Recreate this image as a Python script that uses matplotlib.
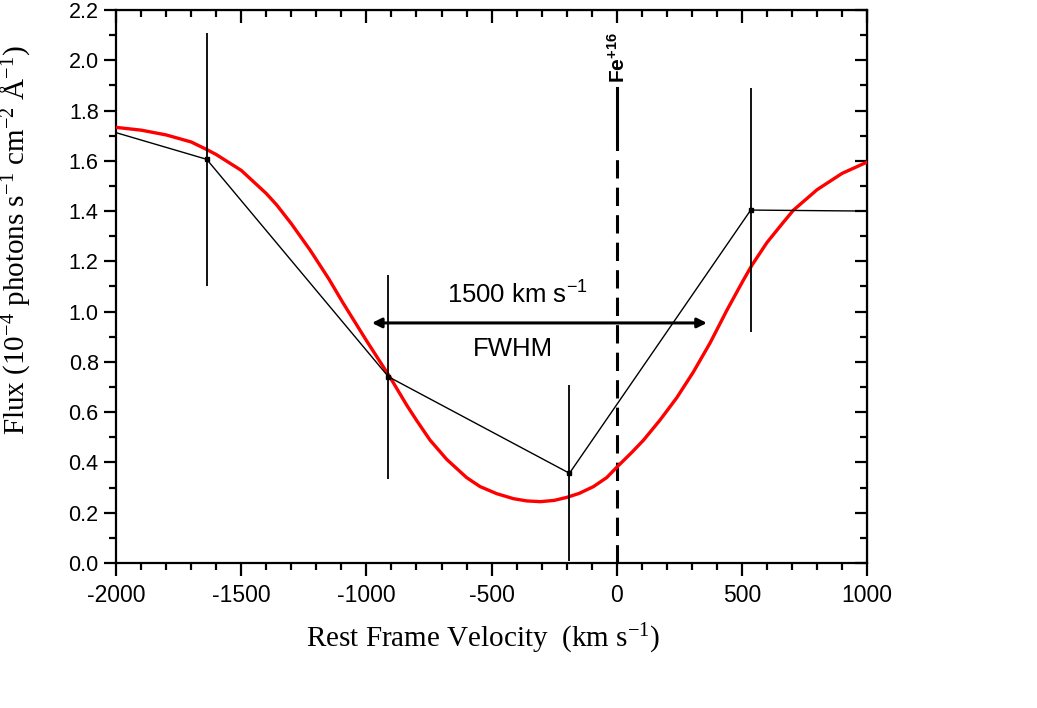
import matplotlib
matplotlib.use('Agg')
import matplotlib.pyplot as plt
from matplotlib.ticker import MultipleLocator

plt.rcParams['mathtext.default'] = 'regular'
plt.rcParams['axes.unicode_minus'] = False

# Messpunkte (schwarz) mit Fehlerbalken
vel = [-2000, -1638, -912, -189, 535, 1000]
flux = [1.712, 1.606, 0.741, 0.357, 1.404, 1.400]
err_vel = [-1638, -912, -189, 535]
err_flux = [1.606, 0.741, 0.357, 1.404]
err = [0.503, 0.406, 0.350, 0.487]

# Modellkurve (rot)
fit_vel = [-2000, -1900, -1800, -1700, -1638, -1600, -1500, -1400, -1358, -1300,
           -1225, -1150, -1093, -1000, -905, -839, -800, -746, -679, -600,
           -546, -480, -413, -360, -306, -250, -200, -150, -93, -40,
           7, 60, 107, 173, 240, 306, 373, 440, 506, 540,
           600, 665, 706, 800, 900, 1000]
fit_flux = [1.733, 1.722, 1.703, 1.675, 1.645, 1.625, 1.562, 1.470, 1.424, 1.350,
            1.245, 1.130, 1.034, 0.885, 0.738, 0.628, 0.568, 0.489, 0.412, 0.340,
            0.304, 0.276, 0.256, 0.247, 0.244, 0.249, 0.261, 0.277, 0.304, 0.340,
            0.388, 0.440, 0.489, 0.569, 0.658, 0.760, 0.876, 1.006, 1.126, 1.185,
            1.275, 1.355, 1.404, 1.485, 1.550, 1.595]

fig = plt.figure(figsize=(10.37, 7.08), dpi=100)
ax = fig.add_axes([0.1119, 0.2048, 0.7243, 0.7811])

ax.plot(fit_vel, fit_flux, color='red', lw=2.4, zorder=3,
        solid_joinstyle='round')
ax.plot(vel, flux, color='black', lw=1.0, zorder=4)
ax.errorbar(err_vel, err_flux, yerr=err, fmt='s', color='black', ms=2.5,
            elinewidth=1.3, capsize=0, zorder=4)

# Fe+16 Linie
ax.plot([0, 0], [0, 1.72], color='black', lw=2.2, ls=(0, (6, 3)), zorder=2)
ax.plot([0, 0], [1.72, 1.89], color='black', lw=2.2, zorder=2)
ax.text(5, 2.01, 'Fe$^{+16}$', rotation=90, ha='center', va='center',
        family='Liberation Sans', fontsize=15, fontweight='bold')

# FWHM-Pfeil
ax.annotate('', xy=(-978, 0.955), xytext=(360, 0.955),
            arrowprops=dict(arrowstyle='<|-|>', color='black', lw=2.2,
                            mutation_scale=14, shrinkA=0, shrinkB=0))
ax.text(-398, 1.066, '1500 km s$^{-1}$', ha='center', va='center',
        family='Liberation Sans', fontsize=18.5)
ax.text(-416, 0.852, 'FWHM', ha='center', va='center',
        family='Liberation Sans', fontsize=18.5)

ax.set_xlim(-2000, 1000)
ax.set_ylim(0, 2.2)
ax.xaxis.set_major_locator(MultipleLocator(500))
ax.xaxis.set_minor_locator(MultipleLocator(100))
ax.yaxis.set_major_locator(MultipleLocator(0.2))
ax.yaxis.set_minor_locator(MultipleLocator(0.1))
ax.yaxis.set_major_formatter(plt.FormatStrFormatter('%.1f'))

for s in ax.spines.values():
    s.set_linewidth(1.6)

ax.tick_params(which='both', direction='out', top=False, right=False, width=1.6)
ax.tick_params(which='major', length=9)
ax.tick_params(axis='y', which='major', labelsize=15.5)
ax.tick_params(axis='x', which='major', pad=6, labelsize=16.5)
ax.tick_params(which='minor', length=5)
for lab in ax.get_xticklabels() + ax.get_yticklabels():
    lab.set_family('Liberation Sans')

# Innen-Ticks oben und rechts
ax2 = ax.secondary_xaxis('top')
ax2.xaxis.set_major_locator(MultipleLocator(500))
ax2.xaxis.set_minor_locator(MultipleLocator(100))
ax2.tick_params(which='both', direction='in', width=1.6, labeltop=False)
ax2.tick_params(which='major', length=9)
ax2.tick_params(which='minor', length=5)
ax3 = ax.secondary_yaxis('right')
ax3.yaxis.set_major_locator(MultipleLocator(0.2))
ax3.yaxis.set_minor_locator(MultipleLocator(0.1))
ax3.tick_params(which='both', direction='in', width=1.6, labelright=False)
ax3.tick_params(which='major', length=9)
ax3.tick_params(which='minor', length=5)

ax.set_xlabel('Rest Frame Velocity  (km s$^{-1}$)', family='Liberation Serif',
              fontsize=21)
ax.set_ylabel('Flux (10$^{-4}$ photons s$^{-1}$ cm$^{-2}$ Å$^{-1}$)',
              family='Liberation Serif', fontsize=21)
ax.xaxis.set_label_coords(0.489, -0.107)
ax.yaxis.set_label_coords(-0.112, 0.584)

fig.savefig('out.png', dpi=100)
